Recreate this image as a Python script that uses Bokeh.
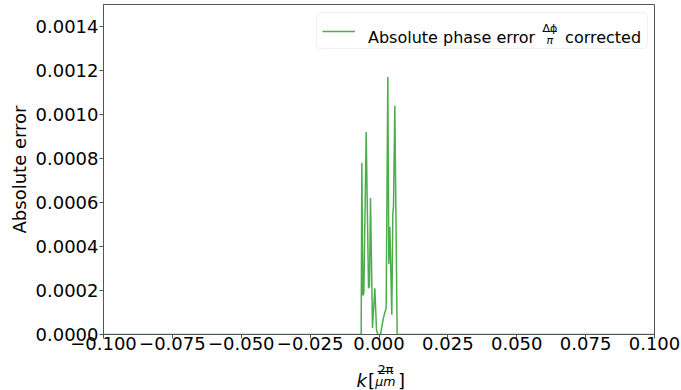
from bokeh.plotting import figure
from bokeh.layouts import column
from bokeh.models import (Range1d, FixedTicker, PrintfTickFormatter, CustomJSTickFormatter,
                          Label, BoxAnnotation)
from bokeh.embed import file_html
from bokeh.resources import INLINE

# ---- data ----
k_vals = [-0.100, -0.00647, -0.00623, -0.00586, -0.00550, -0.00465, -0.00380, -0.00345,
          -0.00308, -0.00236, -0.00151, -0.00090, -0.00042, 0.00054, 0.00151, 0.00212,
          0.00260, 0.00320, 0.00357, 0.00393, 0.00465, 0.00502, 0.00526, 0.00574,
          0.00659, 0.100]
err_vals = [0.0, 0.0, 0.00078, 0.000177, 0.00019, 0.00092, 0.00021, 0.00022,
            0.00062, 0.00003, 0.00021, 0.00002, 0.0, 0.0, 0.00007, 0.00010,
            0.00012, 0.00117, 0.00032, 0.00049, 0.00009, 0.00055, 0.00058, 0.00104,
            0.0, 0.0]
x_ticks = [-0.1, -0.075, -0.05, -0.025, 0.0, 0.025, 0.05, 0.075, 0.1]
y_ticks = [0.0, 0.0002, 0.0004, 0.0006, 0.0008, 0.0010, 0.0012, 0.0014]

GREEN = "#2ca02c"
FONT = "DejaVu Sans"
W, H = 681, 390
FL, FR = 103, 654          # frame left/right (pixels)
FT, FB = 4, 334            # frame top/bottom (pixels)
TICKPANEL = 23
STRIP_TOP = FB + TICKPANEL

p = figure(width=W, height=STRIP_TOP, x_range=Range1d(-0.1, 0.1),
           y_range=Range1d(0, 0.0015), title=None,
           output_backend="svg", toolbar_location=None,
           min_border_left=FL, min_border_right=W - FR, min_border_top=FT,
           min_border_bottom=TICKPANEL)
# pixel-positioned ranges for the hand-built legend
p.extra_x_ranges = {"px": Range1d(FL, FR)}
p.extra_y_ranges = {"px": Range1d(FB, FT)}
p.grid.visible = False
p.outline_line_color = "#555555"
p.background_fill_color = "white"
p.border_fill_color = "white"

p.line(k_vals, err_vals, line_color=GREEN, line_alpha=0.85, line_width=1.5)

for ax in (p.xaxis[0], p.yaxis[0]):
    ax.axis_line_color = "#555555"
    ax.major_tick_line_color = "#555555"
    ax.major_tick_out = 4
    ax.major_tick_in = 0
    ax.minor_tick_out = 0
    ax.minor_tick_in = 0
    ax.major_label_text_font = FONT
    ax.major_label_text_font_size = "18px"
    ax.major_label_text_color = "black"
p.xaxis.major_label_standoff = -2
p.yaxis.major_label_standoff = 1

p.xaxis.ticker = FixedTicker(ticks=x_ticks)
p.xaxis.formatter = CustomJSTickFormatter(code="return tick.toFixed(3).replace('-', '\u2212');")
p.yaxis.ticker = FixedTicker(ticks=y_ticks)
p.yaxis.formatter = PrintfTickFormatter(format="%.4f")

p.yaxis.axis_label = "Absolute error"
p.yaxis.axis_label_text_font = FONT
p.yaxis.axis_label_text_font_size = "18px"
p.yaxis.axis_label_text_font_style = "normal"
p.yaxis.axis_label_text_color = "black"
p.yaxis.axis_label_standoff = 3

R = dict(x_range_name="px", y_range_name="px")

# ---- legend (hand-built to show the fraction) ----
p.add_layout(BoxAnnotation(left=316, right=647, top=12, bottom=48,
                           fill_color="white", fill_alpha=0.8, line_color="#cccccc",
                           line_width=1, border_radius=4, level="underlay", **R))
p.segment(x0=[322], y0=[31], x1=[354.5], y1=[31],
          line_color=GREEN, line_alpha=0.85, line_width=1.5, **R)
p.add_layout(Label(x=367.5, y=37, text="Absolute phase error", text_font=FONT,
                   text_color="black", text_font_size="16px",
                   text_baseline="alphabetic", text_align="left", **R))
p.add_layout(Label(x=549.4, y=28, text="Δϕ", text_font=FONT, text_color="black",
                   text_font_size="11px", text_baseline="alphabetic", text_align="center", **R))
p.segment(x0=[542], y0=[31], x1=[556.5], y1=[31], line_color="black", line_width=0.8, **R)
p.add_layout(Label(x=549.4, y=40, text="π", text_font=FONT, text_font_style="italic",
                   text_color="black", text_font_size="11px",
                   text_baseline="alphabetic", text_align="center", **R))
p.add_layout(Label(x=564.6, y=37, text="corrected", text_font=FONT, text_color="black",
                   text_font_size="16px", text_baseline="alphabetic", text_align="left", **R))

# ---- x axis label k[2π/μm] in a strip below ----
q = figure(width=W, height=H - STRIP_TOP, x_range=Range1d(FL, FR),
           y_range=Range1d(H, STRIP_TOP), title=None,
           output_backend="svg", toolbar_location=None,
           x_axis_location=None, y_axis_location=None,
           min_border=0, min_border_left=FL, min_border_right=W - FR,
           min_border_top=0, min_border_bottom=0)
q.grid.visible = False
q.outline_line_color = None
q.background_fill_color = "white"
q.border_fill_color = "white"

q.add_layout(Label(x=356, y=380, text="k", text_font=FONT, text_font_style="italic",
                   text_color="black", text_font_size="18px",
                   text_baseline="alphabetic", text_align="left"))
q.add_layout(Label(x=367.5, y=380, text="[", text_font=FONT, text_color="black",
                   text_font_size="18px", text_baseline="alphabetic", text_align="left"))
q.add_layout(Label(x=385, y=369, text="2π", text_font=FONT, text_color="black",
                   text_font_size="12.6px", text_baseline="alphabetic", text_align="center"))
q.segment(x0=[377], y0=[371], x1=[393], y1=[371], line_color="black", line_width=1)
q.add_layout(Label(x=385, y=381, text="μm", text_font=FONT, text_font_style="italic",
                   text_color="black", text_font_size="12.6px",
                   text_baseline="alphabetic", text_align="center"))
q.add_layout(Label(x=397.5, y=380, text="]", text_font=FONT, text_color="black",
                   text_font_size="18px", text_baseline="alphabetic", text_align="left"))

layout = column(p, q, spacing=0)
open("out.html", "w").write(file_html(layout, INLINE))
